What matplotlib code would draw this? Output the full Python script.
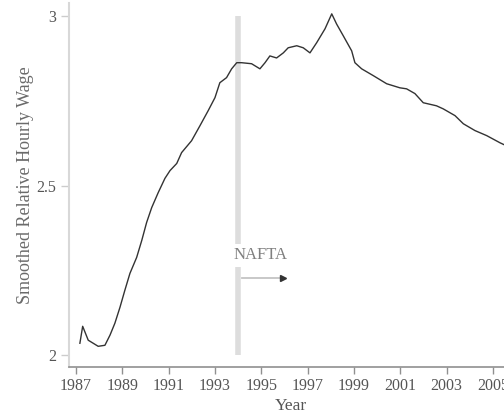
import matplotlib
matplotlib.use("Agg")
import matplotlib.pyplot as plt

plt.rcParams['font.family'] = ['Liberation Serif', 'DejaVu Serif']

# smoothed wage series
years = [1987.17, 1987.29, 1987.53, 1987.96, 1988.25, 1988.47, 1988.68, 1988.90,
         1989.11, 1989.33, 1989.62, 1989.84, 1990.05, 1990.27, 1990.55, 1990.84,
         1991.06, 1991.35, 1991.56, 1991.99, 1992.35, 1992.71, 1993.00, 1993.21,
         1993.50, 1993.72, 1993.94, 1994.15, 1994.58, 1994.94, 1995.16, 1995.37,
         1995.66, 1995.95, 1996.16, 1996.53, 1996.81, 1997.10, 1997.39, 1997.75,
         1998.04, 1998.25, 1998.54, 1998.90, 1999.04, 1999.33, 1999.83, 2000.41,
         2000.98, 2001.27, 2001.63, 2001.99, 2002.56, 2002.85, 2003.36, 2003.72,
         2004.22, 2004.73, 2005.30, 2005.80]
wage = [2.035, 2.085, 2.044, 2.026, 2.029, 2.059, 2.094, 2.141,
        2.191, 2.241, 2.288, 2.338, 2.391, 2.435, 2.479, 2.521,
        2.544, 2.565, 2.597, 2.632, 2.676, 2.721, 2.759, 2.803,
        2.818, 2.844, 2.862, 2.862, 2.859, 2.844, 2.862, 2.882,
        2.876, 2.891, 2.906, 2.912, 2.906, 2.891, 2.921, 2.962,
        3.006, 2.976, 2.941, 2.897, 2.862, 2.844, 2.824, 2.800,
        2.788, 2.785, 2.771, 2.744, 2.735, 2.726, 2.706, 2.682,
        2.662, 2.647, 2.626, 2.610]

xticks = list(range(1987, 2007, 2))
yticks = [2, 2.5, 3]
ytick_labels = ['2', '2.5', '3']
nafta_year = 1994

fig = plt.figure(figsize=(5.04, 4.19), dpi=100)
# axes run a little past the right edge, like the cropped original
ax = fig.add_axes([69 / 504, (419 - 367) / 419, (512 - 69) / 504, (367 - 3) / 419])

ax.vlines(nafta_year, 2, 3, color='#dddddd', linewidth=4.0, zorder=1)
ax.plot(years, wage, color='#333333', linewidth=1.0, zorder=3)

ax.text(nafta_year + 0.98, 2.295, 'NAFTA', ha='center', va='center', fontsize=12,
        color='#808080', zorder=2,
        bbox=dict(facecolor='white', edgecolor='none', pad=2.5))
ax.plot([nafta_year + 0.15, nafta_year + 1.95], [2.226, 2.226], color='#c4c4c4',
        linewidth=1.3, zorder=2)
ax.plot([nafta_year + 1.95], [2.226], marker='>', markersize=4, color='#333333',
        linestyle='none', zorder=2)

ax.set_xlim(1986.7, 2005.82)
ax.set_ylim(1.965, 3.038)
ax.set_xticks(xticks)
ax.set_yticks(yticks)
ax.set_yticklabels(ytick_labels)

for s in ['top', 'right']:
    ax.spines[s].set_visible(False)
ax.spines['left'].set_color('#d8d8d8')
ax.spines['left'].set_linewidth(1.5)
ax.spines['bottom'].set_color('#909090')
ax.spines['bottom'].set_linewidth(1.2)

ax.tick_params(axis='x', colors='#909090', labelcolor='#555555', labelsize=11.5,
               length=5, width=1, pad=3)
ax.tick_params(axis='y', colors='#cccccc', labelcolor='#555555', labelsize=11.5,
               length=6, width=1, pad=3)

ax.set_xlabel('Year', fontsize=12.5, color='#555555', labelpad=3)
ax.set_ylabel('Smoothed Relative Hourly Wage', fontsize=13, color='#6a6a6a',
              labelpad=2)

fig.savefig('out.png', dpi=100)
